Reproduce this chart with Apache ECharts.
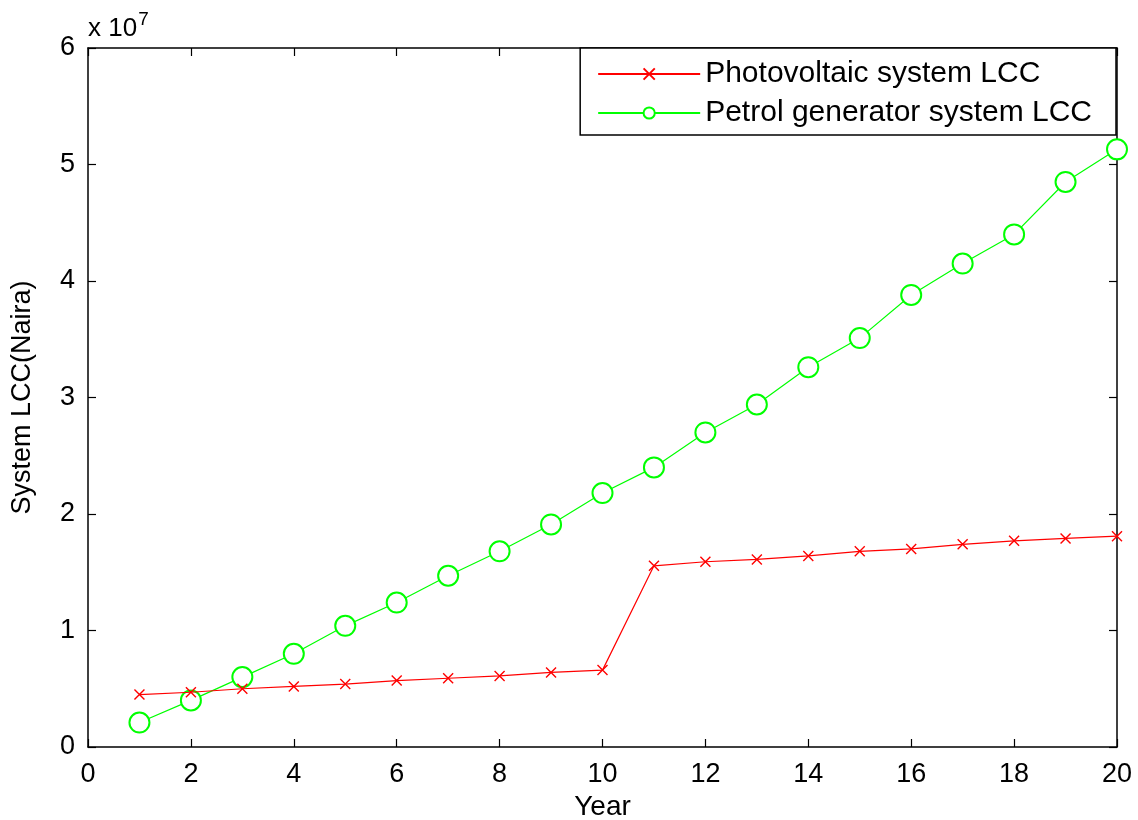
<!DOCTYPE html>
<html>
<head>
<meta charset="utf-8">
<script src="https://cdn.jsdelivr.net/npm/echarts@6/dist/echarts.min.js"></script>
<style>
  html, body { margin: 0; padding: 0; background: #fff; }
  #chart { width: 1138px; height: 820px; }
</style>
</head>
<body>
<div id="chart"></div>
<script>
// years on the x axis
var years = [1, 2, 3, 4, 5, 6, 7, 8, 9, 10, 11, 12, 13, 14, 15, 16, 17, 18, 19, 20]
// LCC values in units of 1e7 Naira
var pvLcc = [0.45, 0.47, 0.50, 0.52, 0.54, 0.57, 0.59, 0.61, 0.64, 0.66,
  1.555, 1.59, 1.61, 1.64, 1.68, 1.70, 1.74, 1.77, 1.79, 1.81]
var petrolLcc = [0.21, 0.40, 0.60, 0.80, 1.04, 1.24, 1.47, 1.68, 1.91, 2.18,
  2.40, 2.70, 2.94, 3.26, 3.51, 3.88, 4.15, 4.40, 4.85, 5.13]
var seriesNames = ['Photovoltaic system LCC', 'Petrol generator system LCC']

function pairs(vals) {
  return years.map(function (y, i) { return [y, vals[i]] })
}

var font = 'Liberation Sans, Arial, sans-serif'
var crossPath = 'path://M0,0L10,10M10,0L0,10'

var tickStyle = { show: true, inside: true, length: 8, lineStyle: { color: '#000', width: 1.2 } }
var lineStyle = { show: true, onZero: false, lineStyle: { color: '#000', width: 1.5 } }

var chart = echarts.init(document.getElementById('chart'))
var option = {
  animation: false,
  backgroundColor: '#fff',
  textStyle: { fontFamily: font },
  grid: { left: 88, right: 21, top: 48, bottom: 73, containLabel: false, outerBoundsMode: 'none' },
  legend: {
    orient: 'vertical',
    right: 22,
    top: 48,
    data: seriesNames,
    itemWidth: 102,
    itemHeight: 14,
    itemGap: 9,
    padding: [11, 24, 7, 17],
    borderColor: '#000',
    borderWidth: 1.5,
    backgroundColor: '#fff',
    textStyle: { fontSize: 30, color: '#000', fontFamily: font }
  },
  graphic: [{
    type: 'text',
    left: 88,
    top: 10,
    style: {
      text: '{a|x 10}{b|7}',
      rich: {
        a: { fontSize: 26, fontFamily: font, fill: '#000', verticalAlign: 'bottom', lineHeight: 32 },
        b: { fontSize: 19, fontFamily: font, fill: '#000', verticalAlign: 'top', lineHeight: 32, padding: [0, 0, 16, 1] }
      }
    }
  }],
  xAxis: [{
    type: 'value',
    min: 0,
    max: 20,
    interval: 2,
    name: 'Year',
    nameLocation: 'middle',
    nameGap: 45,
    nameTextStyle: { fontSize: 28, color: '#000' },
    axisLine: lineStyle,
    axisTick: tickStyle,
    splitLine: { show: false },
    axisLabel: { fontSize: 27, color: '#000', margin: 14 }
  }, {
    type: 'value',
    position: 'top',
    min: 0,
    max: 20,
    interval: 2,
    axisLine: lineStyle,
    axisTick: tickStyle,
    splitLine: { show: false },
    axisLabel: { show: false }
  }],
  yAxis: [{
    type: 'value',
    min: 0,
    max: 6,
    interval: 1,
    name: 'System LCC(Naira)',
    nameLocation: 'middle',
    nameGap: 52,
    nameTextStyle: { fontSize: 27, color: '#000' },
    axisLine: lineStyle,
    axisTick: tickStyle,
    splitLine: { show: false },
    axisLabel: { fontSize: 27, color: '#000', margin: 13 }
  }, {
    type: 'value',
    position: 'right',
    min: 0,
    max: 6,
    interval: 1,
    axisLine: lineStyle,
    axisTick: tickStyle,
    splitLine: { show: false },
    axisLabel: { show: false }
  }],
  series: [{
    name: seriesNames[0],
    type: 'line',
    data: pairs(pvLcc),
    symbol: crossPath,
    symbolSize: 10,
    lineStyle: { color: '#ff0000', width: 1.2 },
    itemStyle: { color: 'none', borderColor: '#ff0000', borderWidth: 1.4 },
    z: 3
  }, {
    name: seriesNames[1],
    type: 'line',
    data: pairs(petrolLcc),
    symbol: 'emptyCircle',
    symbolSize: 20,
    lineStyle: { color: '#00ff00', width: 1.2 },
    itemStyle: { color: '#00ff00', borderColor: '#00ff00', borderWidth: 1 },
    z: 2
  }]
}
chart.setOption(option)
</script>
</body>
</html>
